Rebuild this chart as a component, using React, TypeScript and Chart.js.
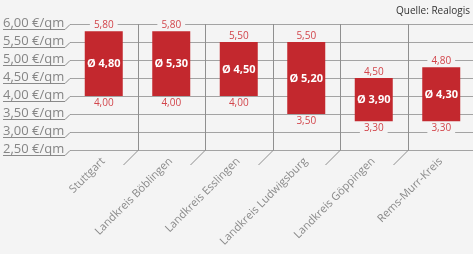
import React, { useEffect, useRef } from "react";
import { Chart, registerables } from "chart.js";

Chart.register(...registerables);

const categories = [
  "Stuttgart",
  "Landkreis Böblingen",
  "Landkreis Esslingen",
  "Landkreis Ludwigsburg",
  "Landkreis Göppingen",
  "Rems-Murr-Kreis",
];
const minValues = [4.0, 4.0, 4.0, 3.5, 3.3, 3.3];
const maxValues = [5.8, 5.8, 5.5, 5.5, 4.5, 4.8];
const avgValues = [4.8, 5.3, 4.5, 5.2, 3.9, 4.3];
const yTicks = [2.5, 3.0, 3.5, 4.0, 4.5, 5.0, 5.5, 6.0];
const yTickLabels = ["2,50 €/qm", "3,00 €/qm", "3,50 €/qm", "4,00 €/qm", "4,50 €/qm", "5,00 €/qm", "5,50 €/qm", "6,00 €/qm"];
const sourceText = "Quelle: Realogis";

const BG = "#f4f4f4";
const FONT = "'Open Sans', 'Noto Sans', sans-serif";
const fmt = (v: number) => v.toFixed(2).replace(".", ",");

const decorPlugin = {
  id: "decor",
  beforeDraw(chart: any) {
    const { ctx, width, height } = chart;
    ctx.save();
    ctx.fillStyle = BG;
    ctx.fillRect(0, 0, width, height);
    ctx.restore();
  },
  beforeDatasetsDraw(chart: any) {
    const { ctx, chartArea } = chart;
    const y = chart.scales.y;
    const { left, right, top, bottom } = chartArea;
    const n = categories.length;
    const step = (right - left) / n;
    ctx.save();
    ctx.lineWidth = 1;
    yTicks.forEach((t, i) => {
      const py = Math.round(y.getPixelForValue(t)) + 0.5;
      ctx.strokeStyle = "#a3a3a3";
      ctx.beginPath();
      ctx.moveTo(left, py);
      ctx.lineTo(right, py);
      ctx.stroke();
      ctx.strokeStyle = "#8a8a8a";
      ctx.beginPath();
      ctx.moveTo(3, py + 5);
      ctx.lineTo(left - 5, py + 5);
      ctx.lineTo(left, py);
      ctx.stroke();
      ctx.fillStyle = "#858585";
      ctx.font = `13px ${FONT}`;
      ctx.textAlign = "left";
      ctx.textBaseline = "alphabetic";
      ctx.fillText(yTickLabels[i], 3, py + 2);
    });
    ctx.strokeStyle = "#8f8f8f";
    for (let i = 1; i < n; i++) {
      const px = Math.round(left + step * i) + 0.5;
      ctx.beginPath();
      ctx.moveTo(px, top);
      ctx.lineTo(px, bottom);
      ctx.lineTo(px - 15, bottom + 15);
      ctx.stroke();
    }
    ctx.fillStyle = "#8a8a8a";
    ctx.font = `11px ${FONT}`;
    ctx.textAlign = "right";
    ctx.textBaseline = "middle";
    categories.forEach((c, i) => {
      const cx = left + step * (i + 0.5);
      ctx.save();
      ctx.translate(cx - 0.5, bottom + 9.5);
      ctx.rotate(-Math.PI / 4);
      ctx.fillText(c, 0, 0);
      ctx.restore();
    });
    ctx.fillStyle = "#333";
    ctx.font = `10px ${FONT}`;
    ctx.textAlign = "right";
    ctx.textBaseline = "alphabetic";
    ctx.fillText(sourceText, 470, 14);
    ctx.restore();
  },
  afterDatasetsDraw(chart: any) {
    const { ctx } = chart;
    const meta = chart.getDatasetMeta(0);
    const y = chart.scales.y;
    ctx.save();
    meta.data.forEach((bar: any, i: number) => {
      const x = bar.x;
      const yTop = y.getPixelForValue(maxValues[i]);
      const yBot = y.getPixelForValue(minValues[i]);
      const drawSmall = (txt: string, cy: number) => {
        ctx.font = `10px ${FONT}`;
        const w = ctx.measureText(txt).width;
        ctx.fillStyle = BG;
        ctx.fillRect(x - w / 2 - 4, cy - 5, w + 8, 10);
        ctx.fillStyle = "#d2454b";
        ctx.textAlign = "center";
        ctx.textBaseline = "middle";
        ctx.fillText(txt, x, cy);
      };
      drawSmall(fmt(maxValues[i]), yTop - 6);
      drawSmall(fmt(minValues[i]), yBot + 7);
      ctx.font = `bold 11px ${FONT}`;
      ctx.fillStyle = "#ffffff";
      ctx.textAlign = "center";
      ctx.textBaseline = "middle";
      ctx.fillText("Ø " + fmt(avgValues[i]), x, (yTop + yBot) / 2 + 0.5);
    });
    ctx.restore();
  },
};

export default function App() {
  const ref = useRef<HTMLCanvasElement | null>(null);
  useEffect(() => {
    document.body.style.margin = "0";
    document.body.style.background = BG;
    if (!ref.current) return;
    const chart = new Chart(ref.current, {
      type: "bar",
      data: {
        labels: categories,
        datasets: [
          {
            data: categories.map((_, i) => [minValues[i], maxValues[i]]) as any,
            backgroundColor: "#c3282e",
            borderWidth: 0,
            categoryPercentage: 1,
            barPercentage: 0.563,
          },
        ],
      },
      options: {
        responsive: false,
        animation: false,
        layout: { padding: { left: 70, top: 24, right: 0, bottom: 104 } },
        plugins: { legend: { display: false }, tooltip: { enabled: false } },
        scales: {
          x: { display: false },
          y: { display: false, min: 2.5, max: 6 },
        },
      },
      plugins: [decorPlugin],
    });
    return () => chart.destroy();
  }, []);
  return (
    <div style={{ width: 473, height: 254, overflow: "hidden", background: BG }}>
      <canvas ref={ref} width={475} height={254} style={{ display: "block" }} />
    </div>
  );
}
